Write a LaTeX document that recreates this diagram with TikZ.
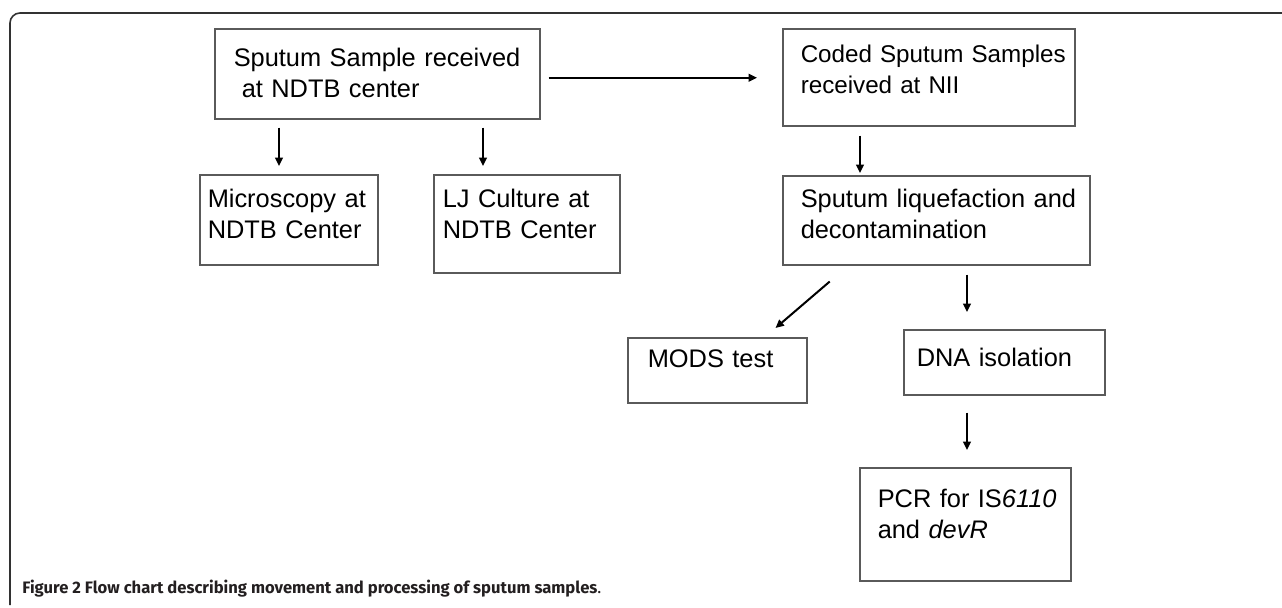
\documentclass[tikz,border=0pt]{standalone}
\usepackage{fontspec}
\setmainfont{Liberation Sans}
\newfontfamily\capfont{Fira Sans}
\usetikzlibrary{arrows.meta}
\definecolor{boxgray}{RGB}{90, 90, 90}
\definecolor{framegray}{RGB}{50, 50, 50}
\definecolor{captext}{RGB}{35, 31, 32}

\begin{document}
\begin{tikzpicture}[
    x=0.5pt, y=-0.5pt,
    stage/.style={
        draw=boxgray,
        line width=0.75pt,
        anchor=north west,
        align=left,
        inner ysep=0pt,
        font=\fontsize{12.7}{15.3}\selectfont
    },
    flow/.style={
        draw=black,
        line width=1pt,
        -{Triangle[length=4.2pt, width=3.8pt]}
    }
]

\useasboundingbox (0,0) rectangle (1282,607);
\draw[framegray, line width=0.8pt, rounded corners=5pt] (10,605) -- (10,13) -- (1282,13);

\node[stage, inner xsep=9.5pt, text width=143.5pt, text height=19pt, text depth=26pt] (recv) at (214,28)
    {\mbox{Sputum Sample received}\\\hspace*{4pt}at NDTB center};
\node[stage, inner xsep=9pt, text width=128pt, text height=17pt, text depth=31.5pt,
      font=\fontsize{12.1}{15.3}\selectfont] (coded) at (782,28)
    {\mbox{Coded Sputum Samples}\\received at NII};
\node[stage, inner xsep=4pt, text width=81pt, text height=16.5pt, text depth=28.5pt] (micro) at (199,174)
    {\mbox{Microscopy at}\\\mbox{NDTB Center}};
\node[stage, inner xsep=4.5pt, text width=84pt, text height=16.5pt, text depth=32.5pt] (lj) at (433,174)
    {\mbox{LJ Culture at}\\\mbox{NDTB Center}};
\node[stage, inner xsep=9pt, text width=135.5pt, text height=16pt, text depth=28.5pt] (liquefy) at (782,175)
    {\mbox{Sputum liquefaction and}\\\mbox{decontamination}};
\node[stage, inner xsep=10pt, text width=69.5pt, text height=15pt, text depth=17.5pt] (mods) at (627,337)
    {\mbox{MODS test}};
\node[stage, inner xsep=6.5pt, text width=87.5pt, text height=18.5pt, text depth=14pt] (dna) at (903,329)
    {\mbox{DNA isolation}};
\node[stage, inner xsep=9pt, text width=87.5pt, text height=20pt, text depth=36.5pt] (pcr) at (859,467)
    {\mbox{PCR for IS\textit{6110}}\\and \textit{devR}};

\draw[flow] ([shift={(65,8)}]recv.south west) -- ([shift={(80,-8)}]micro.north west);
\draw[flow] ([shift={(269,8)}]recv.south west) -- ([shift={(50,-8)}]lj.north west);
\draw[flow] ([shift={(8,4)}]recv.east) -- ([shift={(-25,0.5)}]coded.west);
\draw[flow] ([shift={(78,9)}]coded.south west) -- ([shift={(78,-2)}]liquefy.north west);
\draw[flow] ([shift={(-106.5,16)}]liquefy.south) -- ([shift={(-32,-9)}]mods.north east);
\draw[flow] ([shift={(185,9)}]liquefy.south west) -- ([shift={(64,-17)}]dna.north west);
\draw[flow] ([shift={(64,17)}]dna.south west) -- ([shift={(108,-17)}]pcr.north west);

\node[anchor=base west, inner sep=0pt, text=captext, font=\capfont\fontsize{8.3}{10}\selectfont] (caption) at (22,593)
    {\textbf{Figure 2 Flow chart describing movement and processing of sputum samples}.};

\end{tikzpicture}
\end{document}
